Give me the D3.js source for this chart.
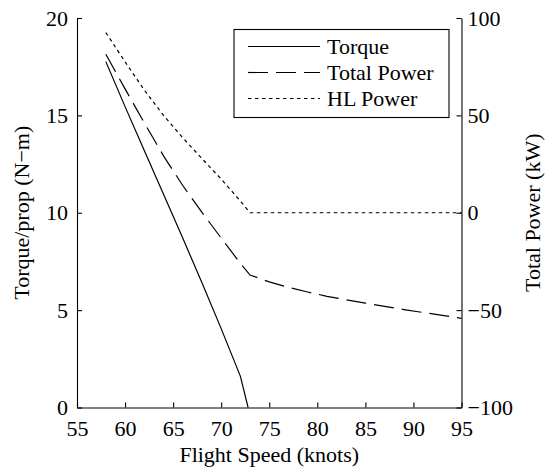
<!DOCTYPE html>
<html><head><meta charset="utf-8">
<script src="https://cdn.jsdelivr.net/npm/d3@7"></script>
<style>
html,body{margin:0;padding:0;background:#fff;}
</style></head>
<body><svg id="c" width="545" height="473"></svg>
<script>
const xTicks = [55,60,65,70,75,80,85,90,95];
const leftTicks = [0,5,10,15,20];
const rightTicks = [-100,-50,0,50,100];

const torqueSpeed = [58,60,62,64,66,68,70,72,72.8];
const torque = [17.76,15.45,13.2,10.95,8.7,6.4,4.05,1.6,0];

const powerSpeed = [58,60,62,64,66,68,70,72,73,75,77,79,81,83,85,87,89,91,93,95];
const totalPower = [81.4,63.6,46.2,29.2,14.0,0.2,-13.0,-26.0,-32.0,-35.5,-38.3,-40.7,-42.9,-44.7,-46.4,-48.1,-49.7,-51.2,-52.7,-54.2];
const hlPower = [92.5,77.5,63.0,50.0,38.5,27.8,17.3,6.0,0,0,0,0,0,0,0,0,0,0,0,0];

const seriesNames = ["Torque","Total Power","HL Power"];

const FONT = "'Liberation Serif', 'Times New Roman', Tinos, 'DejaVu Serif', serif";
const L=77, R=461.5, T=18, B=407.5;
const FS = 22;
const svg = d3.select("#c");

const x = d3.scaleLinear().domain([55,95]).range([L,R]);
const yL = d3.scaleLinear().domain([0,20]).range([B,T]);
const yR = d3.scaleLinear().domain([-100,100]).range([B,T]);

function styleAxis(g){
  g.attr("font-family",null).attr("font-size",null);
  g.selectAll("path,line").attr("stroke","#000").attr("stroke-width",1.1);
  g.selectAll("text").style("font-family",FONT).style("font-size",FS+"px").attr("fill","#000");
}

const fmt = d => d<0 ? "\u2212"+Math.abs(d) : String(d);

svg.append("g").attr("transform",`translate(0,${B})`)
  .call(d3.axisBottom(x).tickValues(xTicks).tickSizeInner(-5).tickSizeOuter(0).tickPadding(13).tickFormat(fmt))
  .call(styleAxis);
svg.append("g").attr("transform",`translate(${L},0)`)
  .call(d3.axisLeft(yL).tickValues(leftTicks).tickSizeInner(-5).tickSizeOuter(0).tickPadding(9).tickFormat(fmt))
  .call(styleAxis);
svg.append("g").attr("transform",`translate(${R},0)`)
  .call(d3.axisRight(yR).tickValues(rightTicks).tickSizeInner(-5).tickSizeOuter(0).tickPadding(6).tickFormat(fmt))
  .call(styleAxis);

function txt(sel){ return sel.style("font-family",FONT).style("font-size",FS+"px").attr("fill","#000"); }

// axis labels
svg.append("text").attr("x",(L+R)/2).attr("y",462).attr("text-anchor","middle")
  .call(txt).text("Flight Speed (knots)");
svg.append("text").attr("transform",`translate(29,${(T+B)/2}) rotate(-90)`).attr("text-anchor","middle")
  .call(txt).text("Torque/prop (N\u2212m)");
svg.append("text").attr("transform",`translate(540,${(T+B)/2}) rotate(-90)`).attr("text-anchor","middle")
  .call(txt).text("Total Power (kW)");

const dashes = [null,"20,8","3.5,3.5"];
const lw = 1.2;

const lineL = d3.line().x(d=>x(d[0])).y(d=>yL(d[1]));
const lineR = d3.line().x(d=>x(d[0])).y(d=>yR(d[1]));

svg.append("path").datum(torqueSpeed.map((s,i)=>[s,torque[i]]))
  .attr("d",lineL).attr("fill","none").attr("stroke","#000").attr("stroke-width",lw);
svg.append("path").datum(powerSpeed.map((s,i)=>[s,totalPower[i]]))
  .attr("d",lineR).attr("fill","none").attr("stroke","#000").attr("stroke-width",lw).attr("stroke-dasharray",dashes[1]);
svg.append("path").datum(powerSpeed.map((s,i)=>[s,hlPower[i]]))
  .attr("d",lineR).attr("fill","none").attr("stroke","#000").attr("stroke-width",lw).attr("stroke-dasharray",dashes[2]);

// legend
const lg = svg.append("g");
lg.append("rect").attr("x",234).attr("y",29.5).attr("width",215).attr("height",88)
  .attr("fill","#fff").attr("stroke","#000").attr("stroke-width",1.1);
seriesNames.forEach((n,i)=>{
  const yy = 46.5 + i*26;
  lg.append("line").attr("x1",248).attr("x2",320).attr("y1",yy).attr("y2",yy)
    .attr("stroke","#000").attr("stroke-width",lw).attr("stroke-dasharray",dashes[i]);
  lg.append("text").attr("x",327).attr("y",yy+7.5).call(txt).text(n);
});
</script></body></html>
